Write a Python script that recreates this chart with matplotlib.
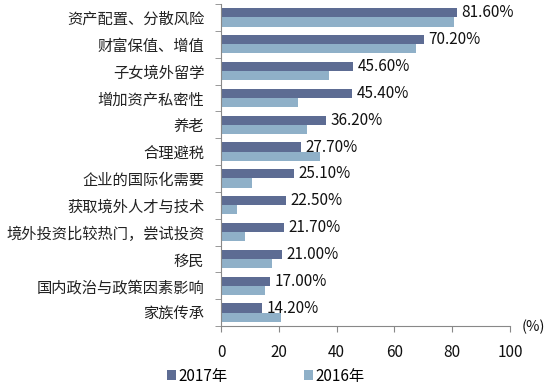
import matplotlib
matplotlib.use("Agg")
import matplotlib.pyplot as plt
import numpy as np

plt.rcParams['font.family'] = ['Noto Sans CJK SC', 'DejaVu Sans']

categories = ["资产配置、分散风险", "财富保值、增值", "子女境外留学", "增加资产私密性", "养老",
              "合理避税", "企业的国际化需要", "获取境外人才与技术", "境外投资比较热门，尝试投资",
              "移民", "国内政治与政策因素影响", "家族传承"]
values_2017 = [81.6, 70.2, 45.6, 45.4, 36.2, 27.7, 25.1, 22.5, 21.7, 21.0, 17.0, 14.2]
values_2016 = [80.6, 67.5, 37.4, 26.5, 29.8, 34.3, 10.7, 5.4, 8.4, 17.6, 15.2, 20.8]
xticks = [0, 20, 40, 60, 80, 100]

c2017 = "#5d6c93"
c2016 = "#8fb0c8"

fig = plt.figure(figsize=(5.49, 3.89), dpi=100)
ax = fig.add_axes([221/549, 1 - 326/389, (510-221)/549, (326-4)/389])

n = len(categories)
y = np.arange(n)
h = 0.34
ax.barh(y - h/2, values_2017, height=h, color=c2017, label="2017年")
ax.barh(y + h/2, values_2016, height=h, color=c2016, label="2016年")
for yi, v in zip(y, values_2017):
    ax.text(v + 1.6, yi - h/2, f"{v:.2f}%", va='center', ha='left', fontsize=11, color='#111111')

ax.set_ylim(n - 0.5, -0.5)
ax.set_xlim(0, 100)
ax.set_yticks(y)
ax.set_yticklabels(categories, fontsize=11, color='#222222')
ax.set_yticks(np.arange(n + 1) - 0.5, minor=True)
ax.tick_params(axis='y', which='major', length=0, pad=12)
ax.tick_params(axis='y', which='minor', length=4, color='#888888', direction='out')
ax.set_xticks(xticks)
ax.set_xticklabels([str(t) for t in xticks], fontsize=11, color='#111111')
ax.tick_params(axis='x', length=4, color='#888888', direction='out', pad=9)

for s in ['top', 'right']:
    ax.spines[s].set_visible(False)
for s in ['left', 'bottom']:
    ax.spines[s].set_color('#888888')
    ax.spines[s].set_linewidth(0.8)

fig.text(533/549, 1 - 327/389, "(%)", fontsize=10.5, va='center', ha='center', color='#111111')

leg = fig.legend(loc='center', bbox_to_anchor=(266/549, 1 - 376/389), ncol=2, frameon=False,
                 fontsize=11, handlelength=0.6, handleheight=0.6, handletextpad=0.15,
                 columnspacing=5.0)

fig.savefig("out.png", dpi=100)
